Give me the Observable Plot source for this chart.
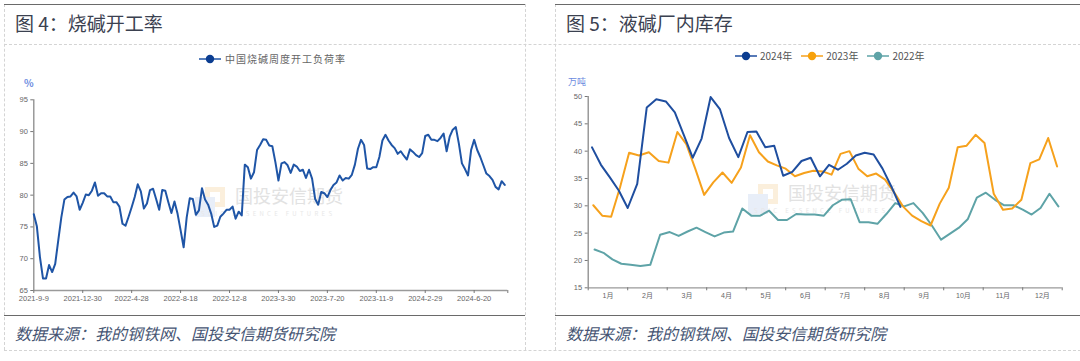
<!DOCTYPE html>
<html><head><meta charset="utf-8">
<script src="https://cdn.jsdelivr.net/npm/d3@7"></script>
<script src="https://cdn.jsdelivr.net/npm/@observablehq/plot@0.6"></script>
<style>
html,body{margin:0;padding:0;background:#fff;}
body{width:1080px;height:361px;overflow:hidden;position:relative;font-family:"Noto Sans CJK SC","Noto Sans",sans-serif;}
.abs{position:absolute;}
.title{font-size:19px;color:#3b4150;white-space:nowrap;line-height:1;}
.caption{font-size:16px;color:#465573;font-style:italic;white-space:nowrap;line-height:1;}
.dashH{position:absolute;height:0;border-top:1px dashed #d4d4d4;}
.dashV{position:absolute;width:0;border-left:1px dashed #d4d4d4;}
.solid{position:absolute;height:0;border-top:1.5px solid #6a6a6a;}
.legend{font-size:10px;color:#555;white-space:nowrap;display:flex;align-items:center;}
.legend svg{display:block;}
.unit{font-size:9px;color:#6b8ae0;white-space:nowrap;line-height:1;}
.wm{color:#e2e2e2;white-space:nowrap;line-height:1;}
.chart{position:absolute;z-index:2;}
</style></head><body>
<script>
// ---------- data: left chart (weekly caustic soda operating rate, %) ----------
const leftTickLabels = ["2021-9-9","2021-12-30","2022-4-28","2022-8-18","2022-12-8","2023-3-30","2023-7-20","2023-11-9","2024-2-29","2024-6-20"];
const leftSeriesName = "中国烧碱周度开工负荷率";
const operatingRate = [
77.0,75.1,70.3,66.9,66.9,69.0,67.9,69.2,72.9,76.5,
79.3,79.7,79.8,80.4,79.8,77.7,78.8,80.1,80.0,80.7,
82.0,79.9,80.3,80.3,79.8,79.8,78.9,78.9,78.2,75.5,
75.2,76.6,78.1,79.7,81.7,80.6,77.9,78.7,80.8,81.0,
79.4,77.7,80.8,80.7,78.9,77.2,79.0,77.1,74.5,71.8,
76.5,79.5,79.4,76.9,77.6,81.1,79.3,78.5,77.1,75.0,
75.2,76.6,77.1,77.7,77.7,78.2,76.3,77.4,76.8,84.8,
84.4,82.6,83.6,87.1,87.9,88.8,88.7,87.8,87.7,85.2,
82.3,85.0,85.2,84.7,83.5,84.8,84.5,83.8,84.0,82.7,
84.0,82.6,79.4,78.5,80.5,80.3,79.7,80.8,81.6,82.0,
83.1,82.3,82.7,82.6,83.2,84.8,87.3,88.7,87.9,84.2,
84.1,84.4,84.4,86.0,88.6,89.5,88.6,87.9,87.4,86.5,
86.9,86.2,85.6,87.2,86.8,86.3,86.0,86.6,89.3,89.5,
88.7,88.7,88.5,89.0,89.7,86.9,89.2,90.3,90.7,88.1,
85.0,84.1,83.1,87.1,88.7,87.1,86.0,84.7,83.4,83.0,
82.4,81.3,80.9,82.2,81.6
];
const leftYTicks = [65,70,75,80,85,90,95];

// ---------- data: right chart (liquid caustic soda factory inventory, 万吨) ----------
const monthLabels = ["1月","2月","3月","4月","5月","6月","7月","8月","9月","10月","11月","12月"];
const seriesNames = ["2024年","2023年","2022年"];
const seriesColors = ["#1f4e9f","#f6a11c","#5ea3a7"];
const legendDotColors = ["#0b3d91","#f7a10a","#5ea3a7"];
const firstWeek = {"2024年":"2024-01-04","2023年":"2023-01-05","2022年":"2022-01-06"};
const inv2024 = [40.7,37.5,35.2,32.8,29.6,34.0,48.0,49.5,49.1,47.1,43.0,38.8,42.3,49.9,47.7,42.4,38.9,43.5,43.6,40.7,41.0,35.5,36.2,38.2,38.8,35.4,37.5,36.6,37.7,39.2,39.7,39.4,36.8,33.5,29.8];
const inv2023 = [30.1,28.2,28.0,33.4,39.7,39.2,39.8,38.2,37.9,43.5,41.3,36.8,32.0,34.3,36.1,34.2,37.0,42.9,39.8,38.1,37.4,36.8,35.4,36.0,36.4,36.3,35.7,39.5,40.0,36.8,35.4,35.9,34.8,32.5,29.9,28.2,27.2,26.4,30.4,33.3,40.7,41.0,43.0,41.5,32.2,29.3,29.5,31.1,37.8,38.5,42.4,37.2];
const inv2022 = [22.0,21.4,20.2,19.4,19.2,19.0,19.2,24.7,25.2,24.5,25.3,26.0,25.2,24.4,25.1,25.3,29.5,28.2,28.2,29.1,27.4,27.4,28.5,28.4,28.4,28.2,30.1,31.1,31.2,27.0,27.0,26.7,28.5,30.5,29.9,30.5,28.7,26.4,23.8,24.9,26.0,27.6,31.5,32.4,31.1,30.1,30.1,29.3,28.4,29.6,32.2,29.9];
const rightYTicks = [15,20,25,30,35,40,45,50];

// ---------- page furniture ----------
function el(cls, css, html){const d=document.createElement("div");d.className=cls;Object.assign(d.style,css);if(html!=null)d.innerHTML=html;document.body.appendChild(d);return d;}
el("dashH",{left:"3.5px",top:"43.5px",width:"1077px"});
el("dashH",{left:"3.5px",top:"350px",width:"1077px"});
[3.5,524.5,554.5].forEach(x=>el("dashV",{left:x+"px",top:"4px",height:"346px"}));
[[3.5,521],[554.5,526]].forEach(([x,w])=>{el("solid",{left:x+"px",top:"3.5px",width:w+"px"});el("solid",{left:x+"px",top:"315px",width:w+"px"});});
el("abs title",{left:"15px",top:"13px"},"图 4：烧碱开工率");
el("abs title",{left:"566px",top:"13px"},"图 5：液碱厂内库存");
el("abs caption",{left:"15px",top:"325px"},"数据来源：我的钢铁网、国投安信期货研究院");
el("abs caption",{left:"566px",top:"325px"},"数据来源：我的钢铁网、国投安信期货研究院");
el("abs unit",{left:"24px",top:"78px",fontSize:"10px",fontWeight:"bold"},"%");
el("abs unit",{left:"568px",top:"77px"},"万吨");

function marker(line, dot){
  return `<svg width="22" height="10"><line x1="0" y1="5" x2="22" y2="5" stroke="${line}" stroke-width="1.5"/><circle cx="11" cy="5" r="4.2" fill="${dot}"/></svg>`;
}
el("abs legend",{left:"199px",top:"51px",color:"#666",letterSpacing:"1px"}, marker("#1f55a6","#0b3d91")+`<span style="margin-left:4px">${leftSeriesName}</span>`);
el("abs legend",{left:"735px",top:"48px"}, seriesNames.map((n,i)=>marker(seriesColors[i],legendDotColors[i])+`<span style="margin:0 9px 0 3px">${n}</span>`).join(""));

// faint watermarks
function watermark(x,y){
  el("abs",{left:(x+10)+"px",top:y+"px",width:"20px",height:"20px",background:"#fbefdc",zIndex:1},"");
  el("abs",{left:(x+15)+"px",top:(y+5)+"px",width:"10px",height:"10px",background:"#fff",zIndex:1},"");
  el("abs",{left:x+"px",top:(y+10)+"px",width:"20px",height:"20px",background:"#e8eef8",zIndex:1},"");
  el("abs wm",{left:(x+40)+"px",top:(y-1)+"px",fontSize:"18px",zIndex:1},"国投安信期货");
  el("abs wm",{left:(x+6)+"px",top:(y+24)+"px",fontSize:"6px",letterSpacing:"3.3px",zIndex:1,color:"#e8e8e8"},"SDIC ESSENCE FUTURES");
}
watermark(195,187);
watermark(748,184);

const axisFont = '"Liberation Sans","Noto Sans CJK SC",sans-serif';

// ---------- left chart ----------
const leftRows = operatingRate.map((v,i)=>({i, v}));
const leftTickIdx = leftTickLabels.map((_,k)=>k*16);
const leftEnd = operatingRate.length;
const left = Plot.plot({
  width:525, height:248,
  marginLeft:33.3, marginRight:17.7, marginTop:37.3, marginBottom:20,
  style:{background:"transparent", fontFamily:axisFont, fontSize:"7.5px", color:"#666", overflow:"visible"},
  x:{domain:[0,leftEnd], axis:null},
  y:{domain:[65,95], axis:null},
  marks:[
    Plot.ruleX([0],{stroke:"#8a8a8a", strokeWidth:1.3}),
    Plot.ruleY([65],{stroke:"#9a9a9a", strokeWidth:1.3}),
    Plot.axisY({ticks:leftYTicks, tickSize:3, tickPadding:3, stroke:"#777", fill:"#666", label:null}),
    Plot.axisX({ticks:[...leftTickIdx, leftEnd], tickSize:3, tickPadding:2, stroke:"#777", fill:"#666", label:null,
      tickFormat:d=>{const k=leftTickIdx.indexOf(d);return k>=0?leftTickLabels[k]:"";}}),
    Plot.lineY(leftRows,{x:"i", y:"v", stroke:"#1f55a6", strokeWidth:2})
  ]
});
left.classList.add("chart"); left.style.left="0px"; left.style.top="62px";
document.body.appendChild(left);

// ---------- right chart ----------
function monthPos(d){const m=d.getUTCMonth();const dim=new Date(Date.UTC(d.getUTCFullYear(),m+1,0)).getUTCDate();return m+(d.getUTCDate()-1)/dim;}
const seriesValues = {"2024年":inv2024,"2023年":inv2023,"2022年":inv2022};
const rightRows = ["2022年","2023年","2024年"].flatMap(name=>seriesValues[name].map((v,i)=>{
  const d = d3.utcDay.offset(new Date(firstWeek[name]+"T00:00:00Z"), 7*i);
  return {name, x:monthPos(d), v};
}));
const right = Plot.plot({
  width:525, height:248,
  marginLeft:32.7, marginRight:18.3, marginTop:34, marginBottom:22.7,
  style:{background:"transparent", fontFamily:axisFont, fontSize:"7.5px", color:"#666", overflow:"visible"},
  x:{domain:[0,12], axis:null},
  y:{domain:[15,50], axis:null},
  color:{domain:seriesNames, range:seriesColors},
  marks:[
    Plot.ruleX([0],{stroke:"#8a8a8a", strokeWidth:1.3}),
    Plot.ruleY([15],{stroke:"#9a9a9a", strokeWidth:1.3}),
    Plot.axisY({ticks:rightYTicks, tickSize:3, tickPadding:3, stroke:"#777", fill:"#666", label:null}),
    Plot.axisX({ticks:d3.range(0,13), tickSize:3, tickFormat:()=>"", stroke:"#777", label:null}),
    Plot.axisX({ticks:monthLabels.map((_,k)=>k+0.5), tickSize:0, tickPadding:5.5, fill:"#666", fontSize:"7px", label:null,
      tickFormat:d=>monthLabels[Math.floor(d)]}),
    Plot.lineY(rightRows,{x:"x", y:"v", z:"name", stroke:"name", strokeWidth:2})
  ]
});
right.classList.add("chart"); right.style.left="555px"; right.style.top="62px";
document.body.appendChild(right);
</script>
</body></html>
